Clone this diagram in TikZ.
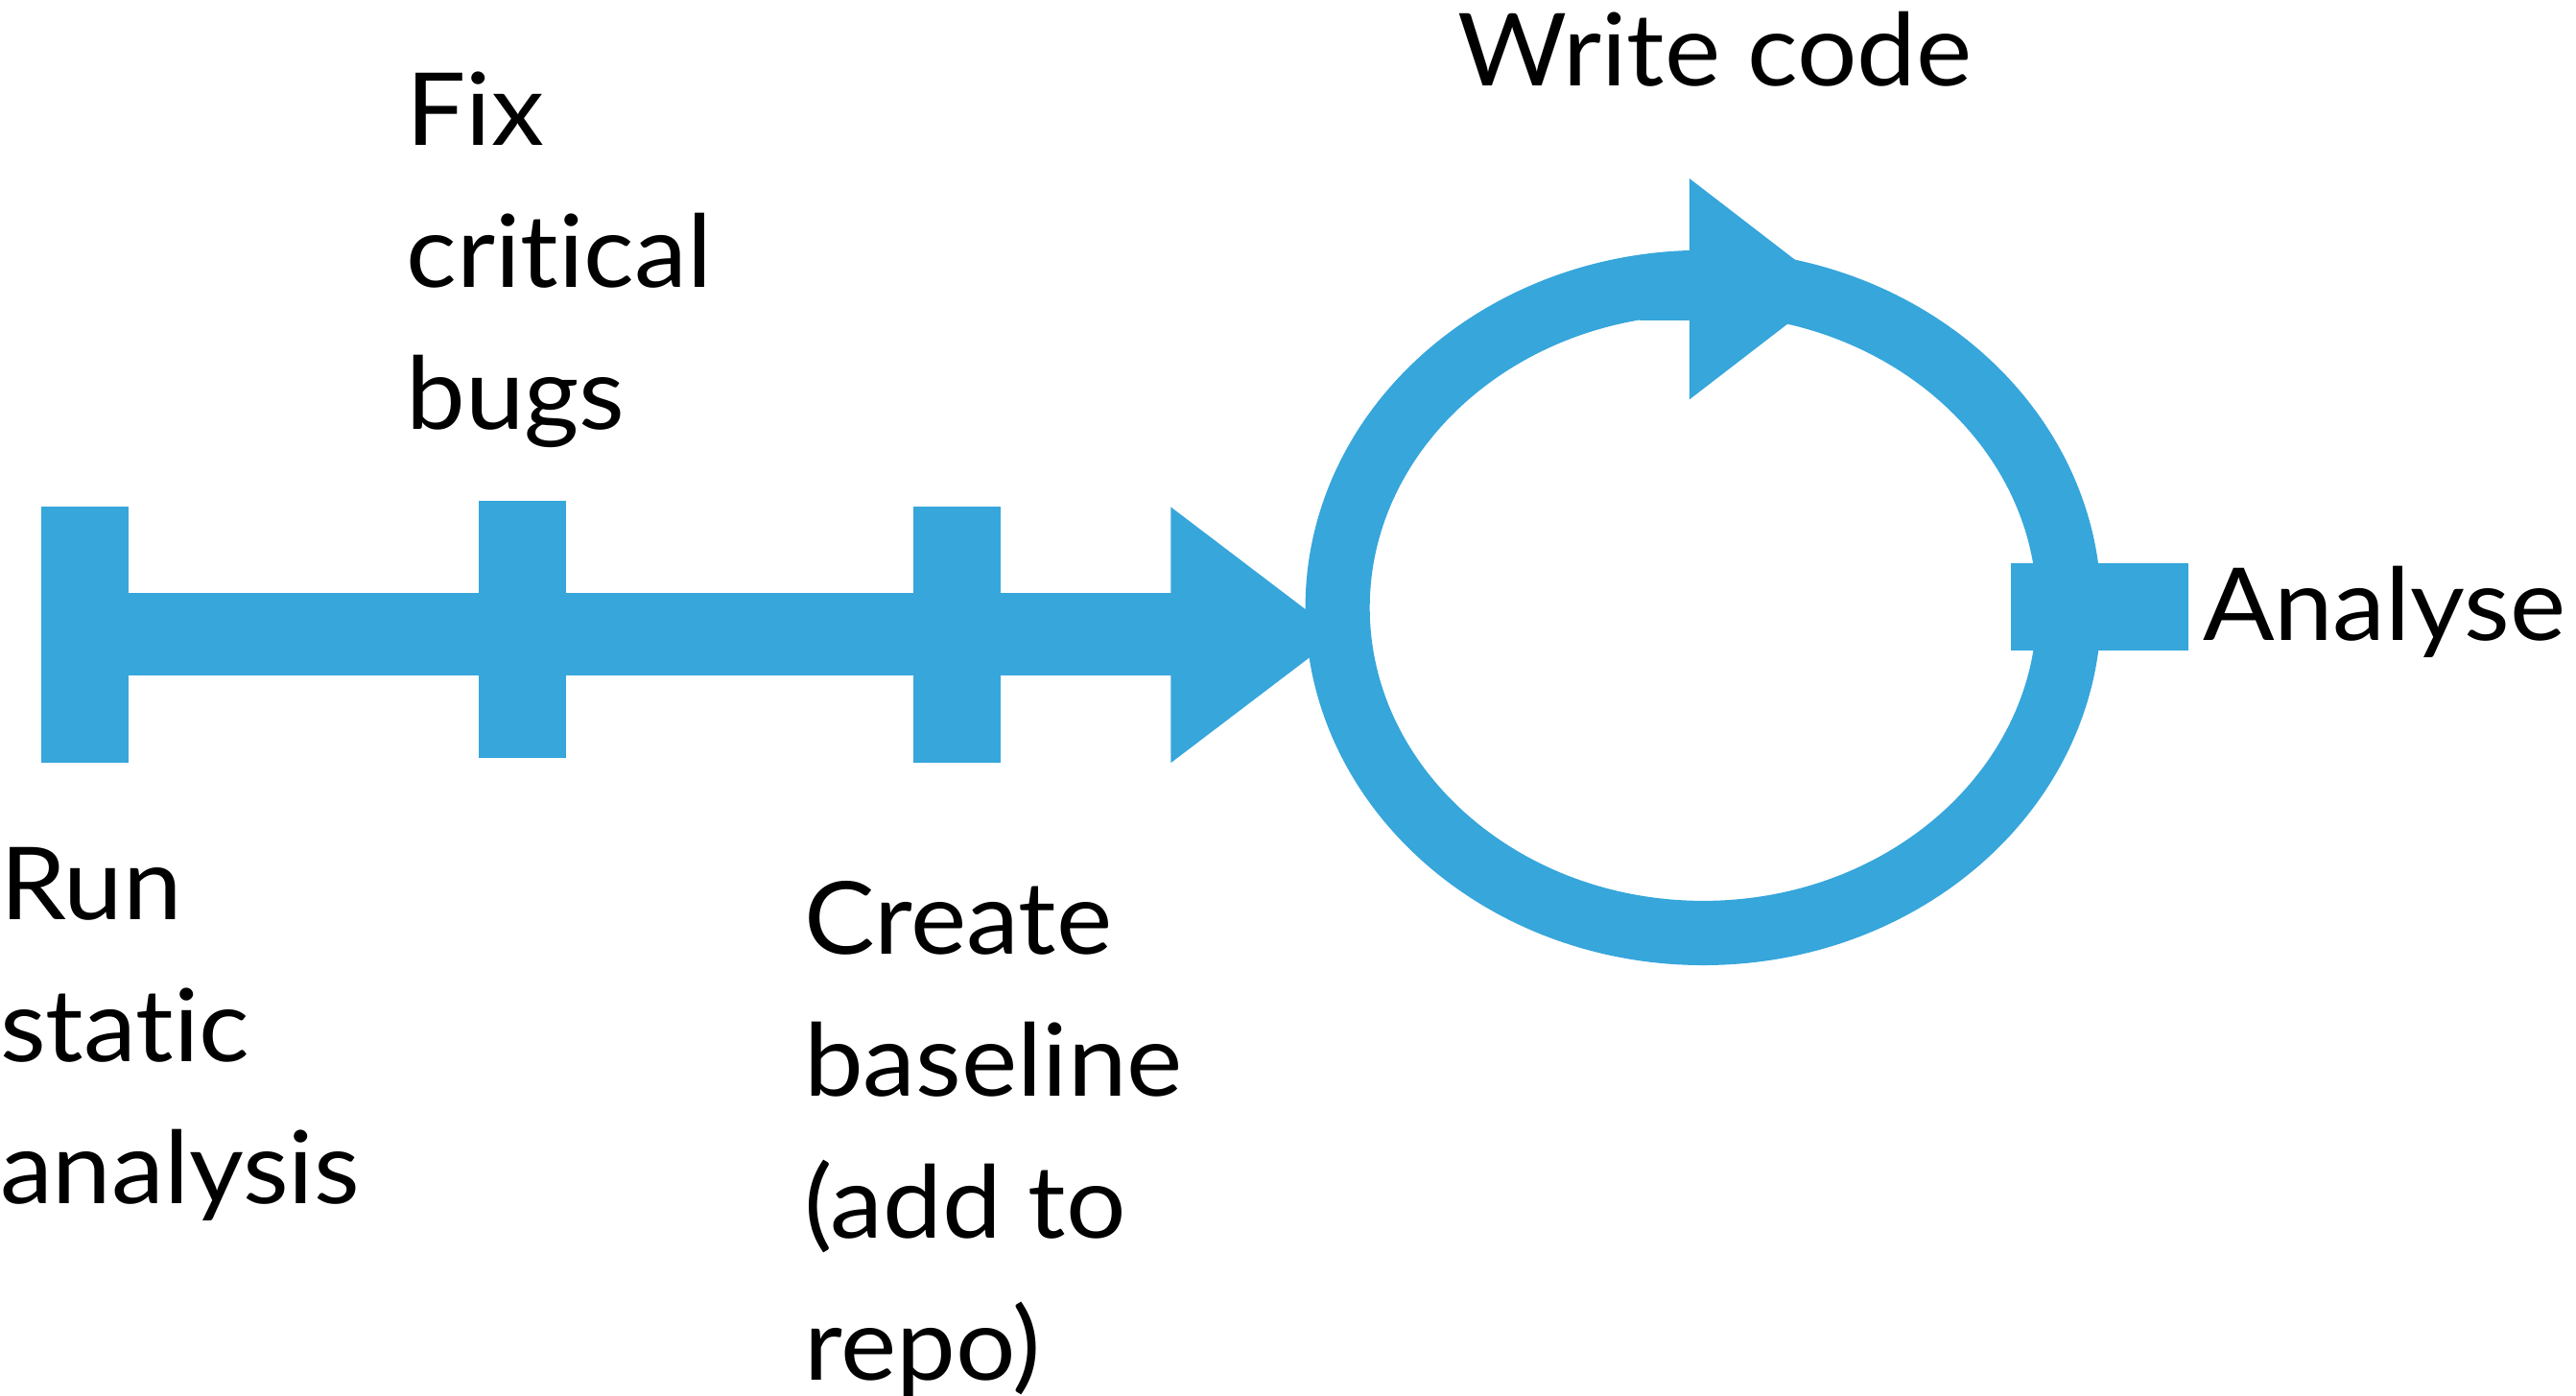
\documentclass[tikz,border=0pt]{standalone}
\usepackage{fontspec}
\setmainfont[Ligatures=NoCommon,FakeStretch=1.05]{Lato}
\definecolor{flowblue}{RGB}{54,166,219}
\newcommand\stacklines[1]{\vtop{\baselineskip=86pt\lineskiplimit=-200pt\lineskip=0pt #1}}
\begin{document}
\begin{tikzpicture}[x=1pt,y=-1pt,
  shape fill/.style={fill=flowblue,draw=none},
  label text/.style={anchor=base west,inner sep=0pt,outer sep=0pt,font=\fontsize{61}{86}\selectfont,text=black}]
\useasboundingbox (0,0) rectangle (1560,845.3);
% main shaft and ticks
\fill[shape fill] (25,359) rectangle (710,409);
\fill[shape fill] (25,307) rectangle (78,462);
\fill[shape fill] (290,303) rectangle (343,459);
\fill[shape fill] (553,307) rectangle (606,462);
\fill[shape fill] (709,307) -- (811,384.5) -- (709,462) -- cycle;
% loop
\draw[flowblue,line width=39pt] (1031.5,368) ellipse [x radius=221.5pt, y radius=197pt];
\fill[shape fill] (993,160) rectangle (1024,194);
\fill[shape fill] (1023,108) -- (1110,175) -- (1023,242) -- cycle;
\fill[shape fill] (1218,341) rectangle (1325,394);
% labels
\node[label text] (write) at (883,52) {Write code};
\node[label text] (fix) at (246,88) {\stacklines{\hbox{Fix}\hbox{critical}\hbox{bugs}}};
\node[label text] (run) at (0,557) {\stacklines{\hbox{Run}\hbox{static}\hbox{analysis}}};
\node[label text] (create) at (487,578) {\stacklines{\hbox{Create}\hbox{baseline}\hbox{(add to}\hbox{repo)}}};
\node[label text] (analyse) at (1334,388) {Analyse};
\end{tikzpicture}
\end{document}
